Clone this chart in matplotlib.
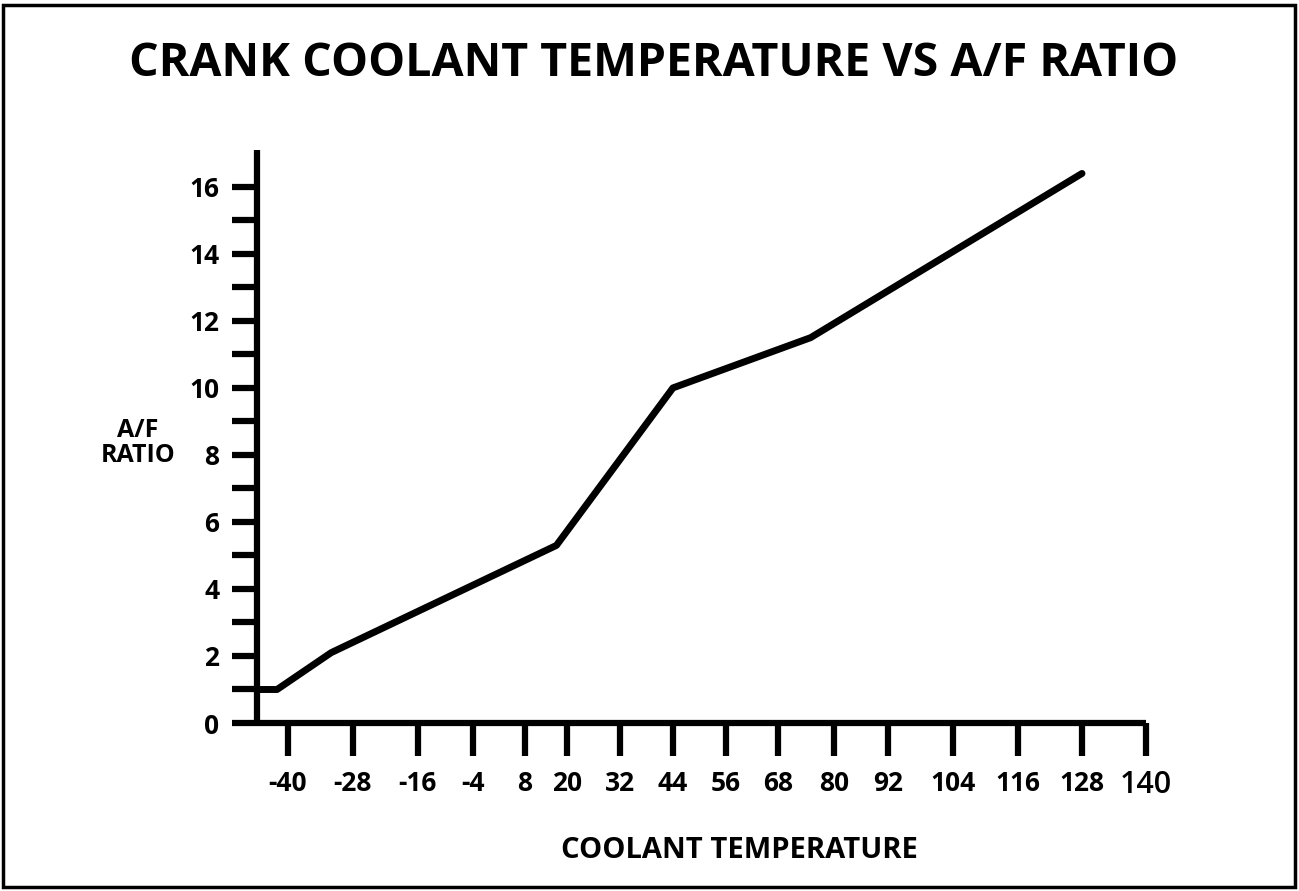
import matplotlib
matplotlib.use("Agg")
import matplotlib.pyplot as plt
import numpy as np
from matplotlib.patches import Rectangle

# coolant temperature vs A/F ratio curve
coolant_temp = [-45.7, -42, -32, 17, 44, 75, 128]
af_ratio = [1.0, 1.0, 2.1, 5.3, 10.0, 11.5, 16.4]

temp_ticks = [-40, -28, -16, -4, 8, 20, 32, 44, 56, 68, 80, 92, 104, 116, 128, 140]
ratio_ticks = [0, 2, 4, 6, 8, 10, 12, 14, 16]

# the printed temperature axis is not evenly spaced; these are the
# relative tick spacings used to build a piecewise-linear x scale
tick_gap = [65, 65, 55, 52, 42, 53, 53, 53, 52, 56, 54, 65, 65, 64, 64]
anchor_t = np.array([temp_ticks[0] - 12] + temp_ticks, dtype=float)
anchor_p = np.concatenate([[0.0], np.cumsum([65] + tick_gap)]).astype(float)


def fwd(x):
    return np.interp(x, anchor_t, anchor_p)


def inv(p):
    return np.interp(p, anchor_p, anchor_t)


plt.rcParams['font.family'] = ['Open Sans', 'DejaVu Sans']

fig = plt.figure(figsize=(12.99, 8.91), dpi=100)
ax = fig.add_axes([257 / 1299, 168 / 891, 889 / 1299, 573 / 891])

ax.set_xscale('function', functions=(fwd, inv))
ax.plot(coolant_temp, af_ratio, color='black', lw=5, solid_joinstyle='round',
        solid_capstyle='round')

ax.set_xlim(coolant_temp[0], temp_ticks[-1])
ax.set_ylim(0, 17.1)

for side in ['top', 'right']:
    ax.spines[side].set_visible(False)
for side in ['left', 'bottom']:
    ax.spines[side].set_linewidth(4.5)
    ax.spines[side].set_capstyle('butt')

ax.set_yticks(ratio_ticks)
ax.set_yticks(range(1, 17, 2), minor=True)
ax.tick_params(axis='y', which='both', direction='out', length=18, width=4.5,
               labelsize=19, pad=9)
for lab in ax.get_yticklabels():
    lab.set_fontweight('bold')

ax.set_xticks(temp_ticks)
ax.xaxis.set_minor_locator(matplotlib.ticker.NullLocator())
ax.set_xticklabels([str(t) for t in temp_ticks])
ax.tick_params(axis='x', direction='out', length=24, width=4.5,
               labelsize=19, pad=10)
for lab in ax.get_xticklabels():
    lab.set_fontweight('bold')
xl = ax.get_xticklabels()[-1]
xl.set_fontweight('semibold')
xl.set_fontsize(22)

fig.text(0.503, 1 - 63 / 891, 'CRANK COOLANT TEMPERATURE VS A/F RATIO',
         ha='center', va='center', fontsize=33.5, fontweight='bold')
fig.text(138 / 1299, 1 - 443 / 891, 'A/F\nRATIO', ha='center', va='center',
         fontsize=18, fontweight='bold', linespacing=1.05)
fig.text(739 / 1299, 1 - 851 / 891, 'COOLANT TEMPERATURE', ha='center',
         va='center', fontsize=21, fontweight='bold')

# outer frame
fig.patches.append(Rectangle((3 / 1299, 4 / 891), 1292 / 1299, 882 / 891,
                             transform=fig.transFigure, fill=False,
                             edgecolor='black', lw=2.5))

fig.savefig('out.png', dpi=100)
